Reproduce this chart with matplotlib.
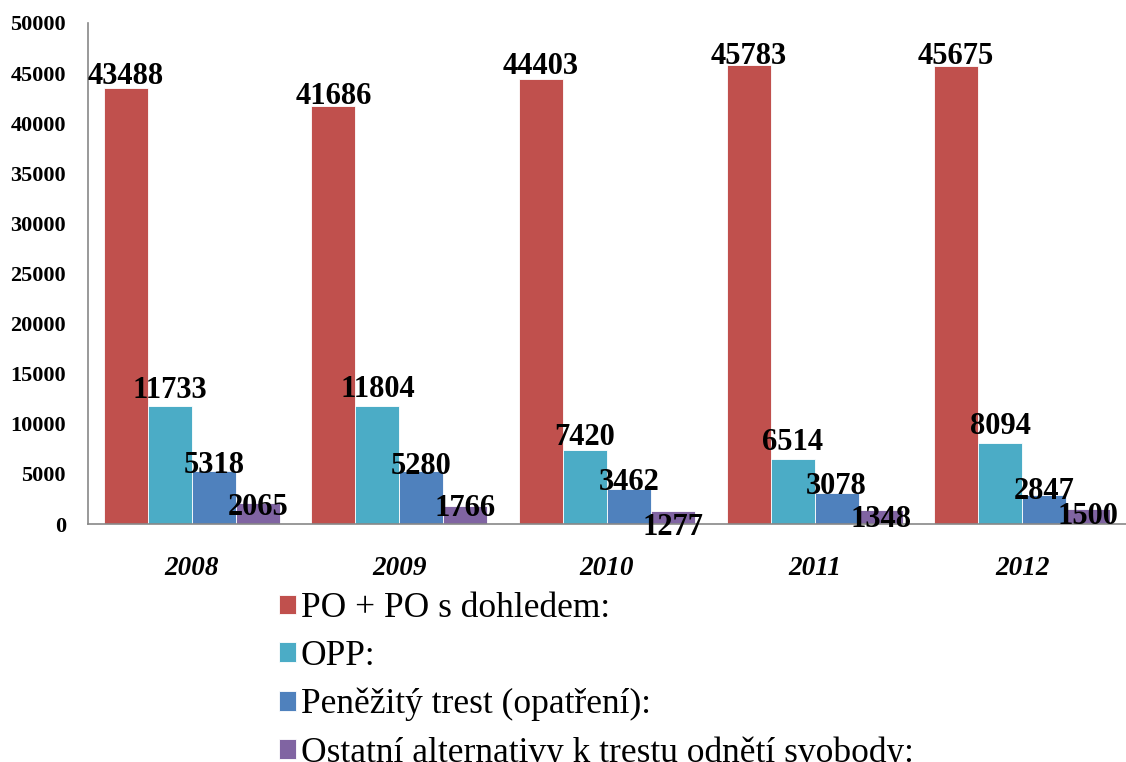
import matplotlib
matplotlib.use("Agg")
import matplotlib.pyplot as plt
import numpy as np

years = ["2008", "2009", "2010", "2011", "2012"]
series_names = [
    "PO + PO s dohledem:",
    "OPP:",
    "Peněžitý trest (opatření):",
    "Ostatní alternativy k trestu odnětí svobody:",
]
po_values = [43488, 41686, 44403, 45783, 45675]
opp_values = [11733, 11804, 7420, 6514, 8094]
penezity_values = [5318, 5280, 3462, 3078, 2847]
ostatni_values = [2065, 1766, 1277, 1348, 1500]

colors = ["#C0504D", "#4BACC6", "#4F81BD", "#8064A2"]
# vertical nudges of value labels (pixels, positive = up) relative to bar top
label_nudge = [
    [12, 10, 13, 9, 10],
    [16, 16, 12, 16, 16],
    [5, 5, 7, 7, 4],
    [-4, -2, -16, -9, -8],
]

plt.rcParams["font.family"] = ["Liberation Serif", "DejaVu Serif"]

fig = plt.figure(figsize=(11.26, 7.62), dpi=100)
ax = fig.add_axes([88 / 1126, 1 - 524 / 762, 1 - 88 / 1126, (524 - 23) / 762])

all_series = [po_values, opp_values, penezity_values, ostatni_values]
x = np.arange(len(years))
w = 0.212
handles = []
for i, (vals, c) in enumerate(zip(all_series, colors)):
    pos = x + (i - 1.5) * w
    b = ax.bar(pos, vals, width=w, color=c, edgecolor="white", linewidth=0.6,
               label=series_names[i])
    handles.append(b)
    for j, (px, v) in enumerate(zip(pos, vals)):
        ax.annotate(str(v), xy=(px, v), xytext=(0, label_nudge[i][j]),
                    textcoords="offset pixels", ha="center", va="center",
                    fontsize=22, fontweight="bold", color="black")

ax.set_xlim(-0.5, len(years) - 0.5)
ax.set_ylim(0, 50000)
ax.set_yticks(np.arange(0, 50001, 5000))
ax.set_yticklabels([str(t) for t in range(0, 50001, 5000)], fontsize=16,
                   fontweight="bold")
ax.set_xticks(x)
ax.set_xticklabels(years, fontsize=19.5, fontweight="bold", fontstyle="italic")
ax.tick_params(axis="y", length=0, pad=16)
ax.tick_params(axis="x", length=0, pad=23)
for s in ["top", "right"]:
    ax.spines[s].set_visible(False)
for s in ["left", "bottom"]:
    ax.spines[s].set_color("#888888")
    ax.spines[s].set_linewidth(1.2)

fig.legend(handles=handles, labels=series_names, loc="upper left",
           bbox_to_anchor=(279 / 1126, 1 - 592 / 762), frameon=False,
           fontsize=25.5, handlelength=0.48, handleheight=0.48,
           handletextpad=0.14, labelspacing=0.42, borderaxespad=0,
           borderpad=0)

fig.savefig("out.png", dpi=100)
